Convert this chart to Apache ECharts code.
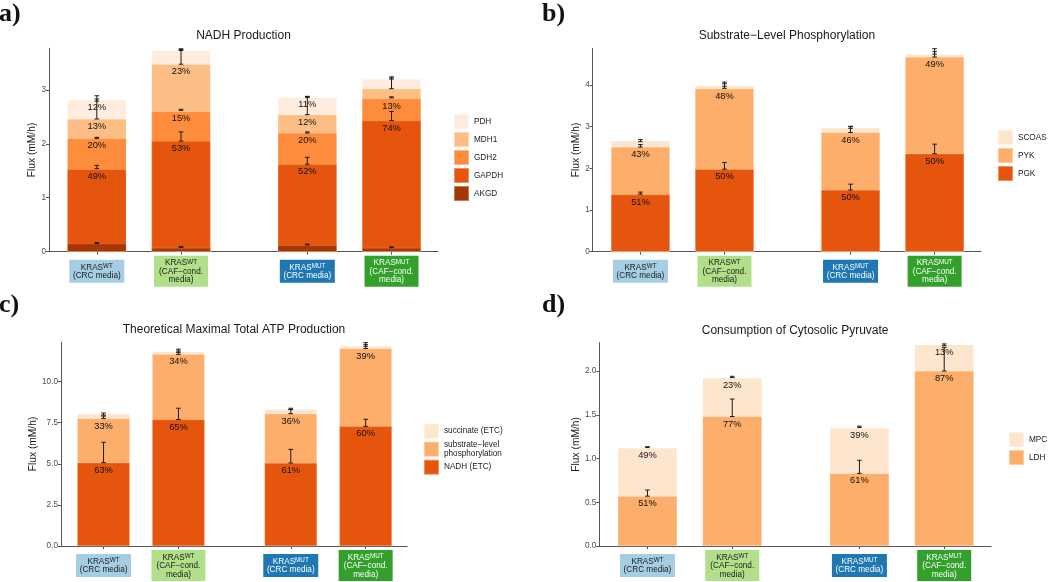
<!DOCTYPE html>
<html><head><meta charset="utf-8">
<script src="https://cdn.jsdelivr.net/npm/echarts@6/dist/echarts.min.js"></script>
<style>html,body{margin:0;padding:0;background:#fff}#c{width:1050px;height:582px}</style>
</head><body><div id="c"></div>
<script>
// ---------- data ----------
const catX = [1, 2, 3.5, 4.5];
const catGenotype = ['WT', 'WT', 'MUT', 'MUT'];
const catMedia = ['(CRC media)', '(CAF\u2212cond.\nmedia)', '(CRC media)', '(CAF\u2212cond.\nmedia)'];

// a) NADH Production (segment values, bottom to top)
const aAKGD  = [0.15, 0.07, 0.12, 0.07];
const aGAPDH = [1.38, 1.98, 1.50, 2.36];
const aGDH2  = [0.57, 0.55, 0.58, 0.41];
const aMDH1  = [0.36, 0.875, 0.34, 0.18];
const aPDH   = [0.35, 0.255, 0.32, 0.18];
const aAKGDpct  = [null, null, null, null];
const aGAPDHpct = ['49%', '53%', '52%', '74%'];
const aGDH2pct  = ['20%', '15%', '20%', '13%'];
const aMDH1pct  = ['13%', '23%', '12%', null];
const aPDHpct   = ['12%', null, '11%', null];
const aAKGDerr  = [[0.15, 0.17], [0.08, 0.095], [0.125, 0.14], [0.075, 0.09]];
const aGAPDHerr = [[1.54, 1.60], [2.05, 2.22], [1.62, 1.75], [2.43, 2.60]];
const aGDH2err  = [[2.10, 2.12], [2.62, 2.64], [2.20, 2.22], [2.85, 2.87]];
const aMDH1err  = [[2.46, 2.83], [3.475, 3.75], [2.54, 2.87], [3.02, 3.22]];
const aPDHerr   = [[2.79, 2.89], [3.73, 3.76], [2.86, 2.88], [3.20, 3.24]];

// b) Substrate-Level Phosphorylation
const bPGK   = [1.37, 1.98, 1.48, 2.35];
const bPYK   = [1.14, 1.93, 1.38, 2.32];
const bSCOAS = [0.15, 0.08, 0.12, 0.07];
const bPGKpct   = ['51%', '50%', '50%', '50%'];
const bPYKpct   = ['43%', '48%', '46%', '49%'];
const bSCOASpct = [null, null, null, null];
const bPGKerr   = [[1.38, 1.43], [1.98, 2.14], [1.48, 1.62], [2.35, 2.58]];
const bPYKerr   = [[2.51, 2.57], [3.92, 4.07], [2.86, 3.01], [4.67, 4.87]];
const bSCOASerr = [[2.64, 2.69], [3.97, 4.03], [2.96, 3.00], [4.74, 4.80]];

// c) Theoretical Maximal Total ATP Production
const cNADH = [5.07, 7.69, 5.05, 7.28];
const cSLP  = [2.68, 3.97, 3.00, 4.73];
const cSUCC = [0.30, 0.15, 0.27, 0.16];
const cNADHpct = ['63%', '65%', '61%', '60%'];
const cSLPpct  = ['33%', '34%', '36%', '39%'];
const cSUCCpct = [null, null, null, null];
const cNADHerr = [[5.07, 6.31], [7.69, 8.38], [5.05, 5.88], [7.28, 7.71]];
const cSLPerr  = [[7.76, 7.90], [11.66, 11.86], [8.05, 8.30], [12.01, 12.25]];
const cSUCCerr = [[7.96, 8.09], [11.78, 11.97], [8.30, 8.38], [12.15, 12.37]];

// d) Consumption of Cytosolic Pyruvate
const dLDH = [0.57, 1.48, 0.83, 2.00];
const dMPC = [0.55, 0.44, 0.52, 0.30];
const dLDHpct = ['51%', '77%', '61%', '87%'];
const dMPCpct = ['49%', '23%', '39%', '13%'];
const dLDHerr = [[0.57, 0.64], [1.48, 1.68], [0.83, 0.98], [2.00, 2.27]];
const dMPCerr = [[1.125, 1.135], [1.925, 1.94], [1.355, 1.37], [2.29, 2.31]];

// ---------- styles ----------
const FONT = 'Liberation Sans, Arial, Helvetica, sans-serif';
const boxColors = ['#A6CEE3', '#B2DF8A', '#1F78B4', '#33A02C'];
const boxText = ['#1a1a1a', '#1a1a1a', '#ffffff', '#ffffff'];
const X_MIN = 0.432, X_MAX = 5.052;

const panels = [
  { title: 'NADH Production', letter: 'a)', letterPos: [-1, 14],
    grid: { left: 49, top: 48.3, width: 389, height: 203.4 }, yMax: 3.77, yInt: 1, digits: 0, nameGap: 11,
    legend: { left: 453, top: 113 }, legendLH: 10,
    series: [
      { name: 'AKGD', color: '#A63603', values: aAKGD, pct: aAKGDpct, err: aAKGDerr },
      { name: 'GAPDH', color: '#E6550D', values: aGAPDH, pct: aGAPDHpct, err: aGAPDHerr },
      { name: 'GDH2', color: '#FD8D3C', values: aGDH2, pct: aGDH2pct, err: aGDH2err },
      { name: 'MDH1', color: '#FDBE85', values: aMDH1, pct: aMDH1pct, err: aMDH1err },
      { name: 'PDH', color: '#FEEDDE', values: aPDH, pct: aPDHpct, err: aPDHerr }
    ] },
  { title: 'Substrate\u2212Level Phosphorylation', letter: 'b)', letterPos: [542, 14],
    grid: { left: 592.7, top: 48.3, width: 388.3, height: 203.4 }, yMax: 4.88, yInt: 1, digits: 0, nameGap: 11.5,
    legend: { left: 997, top: 129 }, legendLH: 10,
    series: [
      { name: 'PGK', color: '#E6550D', values: bPGK, pct: bPGKpct, err: bPGKerr },
      { name: 'PYK', color: '#FDAE6B', values: bPYK, pct: bPYKpct, err: bPYKerr },
      { name: 'SCOAS', color: '#FEE6CE', values: bSCOAS, pct: bSCOASpct, err: bSCOASerr }
    ] },
  { title: 'Theoretical Maximal Total ATP Production', letter: 'c)', letterPos: [-1, 305],
    grid: { left: 61, top: 342, width: 346, height: 204 }, yMax: 12.41, yInt: 2.5, digits: 1, nameGap: 22.5,
    legend: { left: 423, top: 422.7 }, legendLH: 8.5,
    series: [
      { name: 'NADH (ETC)', color: '#E6550D', values: cNADH, pct: cNADHpct, err: cNADHerr },
      { name: 'substrate\u2212level\nphosphorylation', color: '#FDAE6B', values: cSLP, pct: cSLPpct, err: cSLPerr },
      { name: 'succinate (ETC)', color: '#FEE6CE', values: cSUCC, pct: cSUCCpct, err: cSUCCerr }
    ] },
  { title: 'Consumption of Cytosolic Pyruvate', letter: 'd)', letterPos: [542, 305],
    grid: { left: 599.3, top: 342.7, width: 391.7, height: 203.3 }, yMax: 2.324, yInt: 0.5, digits: 1, nameGap: 18,
    legend: { left: 1008, top: 431 }, legendLH: 10,
    series: [
      { name: 'LDH', color: '#FDAE6B', values: dLDH, pct: dLDHpct, err: dLDHerr },
      { name: 'MPC', color: '#FEE6CE', values: dMPC, pct: dMPCpct, err: dMPCerr }
    ] }
];

const option = { animation: false, textStyle: { fontFamily: FONT },
  grid: [], xAxis: [], yAxis: [], series: [], legend: [], graphic: [] };

panels.forEach((P, i) => {
  const g = P.grid;
  option.grid.push({ left: g.left, top: g.top, width: g.width, height: g.height });
  const axisColor = '#555';
  option.xAxis.push({ type: 'value', gridIndex: i, min: X_MIN, max: X_MAX,
    axisLine: { show: true, onZero: false, lineStyle: { color: axisColor, width: 1 } },
    axisTick: { show: true, customValues: catX, length: 3, lineStyle: { color: axisColor } },
    axisLabel: { show: false }, splitLine: { show: false } });
  const ticks = [];
  for (let v = 0; v <= P.yMax + 1e-9; v += P.yInt) ticks.push(+v.toFixed(3));
  option.yAxis.push({ type: 'value', gridIndex: i, min: 0, max: P.yMax, interval: P.yInt,
    axisLine: { show: true, onZero: false, lineStyle: { color: axisColor, width: 1 } },
    axisTick: { show: true, customValues: ticks, length: 3, lineStyle: { color: axisColor } },
    axisLabel: { customValues: ticks, fontSize: 8.2, color: '#4D4D4D', margin: 3,
      formatter: v => Number(v).toFixed(P.digits) },
    splitLine: { show: false },
    name: 'Flux (mM/h)', nameLocation: 'middle', nameGap: P.nameGap,
    nameTextStyle: { fontSize: 10.25, color: '#1a1a1a' } });

  const bw = 0.7 * g.width / (X_MAX - X_MIN);
  // cumulative tops (stack computed here); upper segments drawn first, lower ones on top
  const cum = P.series.map(() => [0, 0, 0, 0]);
  P.series.forEach((s, k) => s.values.forEach((v, j) => {
    cum[k][j] = (k > 0 ? cum[k - 1][j] : 0) + v;
  }));
  for (let k = P.series.length - 1; k >= 0; k--) {
    const s = P.series[k];
    option.series.push({ type: 'bar', name: s.name, xAxisIndex: i, yAxisIndex: i,
      barWidth: bw, barGap: '-100%', silent: true, z: 2,
      data: cum[k].map((v, j) => [catX[j], v]),
      itemStyle: { color: s.color, borderColor: 'rgba(255,255,255,0.35)', borderWidth: 0.5 },
      label: { show: true, position: 'insideTop', distance: 3, fontSize: 9.3, color: '#111',
        formatter: p => s.pct[p.dataIndex] || '' } });
  }

  // error bars
  const errData = [];
  P.series.forEach(s => s.err.forEach((e, j) => errData.push([catX[j], e[0], e[1]])));
  option.series.push({ type: 'custom', xAxisIndex: i, yAxisIndex: i, silent: true, z: 5, clip: false,
    encode: { x: 0, y: [1, 2] }, data: errData,
    renderItem: (params, api) => {
      const lo = api.coord([api.value(0), api.value(1)]);
      const hi = api.coord([api.value(0), api.value(2)]);
      const x = lo[0], hw = 2.3;
      const st = { stroke: '#1a1a1a', lineWidth: 1 };
      return { type: 'group', children: [
        { type: 'line', shape: { x1: x, y1: lo[1], x2: x, y2: hi[1] }, style: st },
        { type: 'line', shape: { x1: x - hw, y1: lo[1], x2: x + hw, y2: lo[1] }, style: st },
        { type: 'line', shape: { x1: x - hw, y1: hi[1], x2: x + hw, y2: hi[1] }, style: st }
      ] };
    } });

  // category label boxes
  option.series.push({ type: 'custom', xAxisIndex: i, yAxisIndex: i, silent: true, z: 5, clip: false,
    encode: { x: 0 }, data: catX.map((x, j) => [x, 0, j]),
    renderItem: (params, api) => {
      const j = api.value(2);
      const c = api.coord([api.value(0), 0]);
      const three = catMedia[j].indexOf('\n') >= 0;
      const w = three ? 54 : 55, h = three ? 31 : 23;
      const cy = c[1] + 19.6;
      const tc = boxText[j];
      const txt = '{n|KRAS}{s|' + catGenotype[j] + '}\n' +
        catMedia[j].split('\n').map(t => '{n|' + t + '}').join('\n');
      return { type: 'group', children: [
        { type: 'rect', shape: { x: c[0] - w / 2, y: cy - h / 2, width: w, height: h }, style: { fill: boxColors[j] } },
        { type: 'text', x: c[0], y: cy + 0.3, style: { text: txt, align: 'center', verticalAlign: 'middle',
          rich: { n: { fontSize: 8.2, lineHeight: 8.4, fill: tc, fontFamily: FONT },
                  s: { fontSize: 6.3, lineHeight: 4, verticalAlign: 'top', fill: tc, fontFamily: FONT } } } }
      ] };
    } });

  option.legend.push({ left: P.legend.left, top: P.legend.top, orient: 'vertical', padding: 0,
    data: P.series.map(s => s.name).reverse(), icon: 'rect', itemWidth: 15, itemHeight: 15, itemGap: 1,
    selectedMode: false, textStyle: { fontSize: 8.2, color: '#1a1a1a', lineHeight: P.legendLH } });

  option.graphic.push({ type: 'text', x: g.left + g.width / 2, y: g.top - 12.5, silent: true,
    style: { text: P.title, align: 'center', verticalAlign: 'middle', fontSize: 12, fontFamily: FONT, fill: '#1a1a1a' } });
  option.graphic.push({ type: 'text', x: P.letterPos[0], y: P.letterPos[1], silent: true,
    style: { text: P.letter, align: 'left', verticalAlign: 'middle', font: 'bold 26px "Liberation Serif", "Times New Roman", serif', fill: '#111' } });
});

const chart = echarts.init(document.getElementById('c'), null, { renderer: 'canvas' });
chart.setOption(option);
</script>
</body></html>
